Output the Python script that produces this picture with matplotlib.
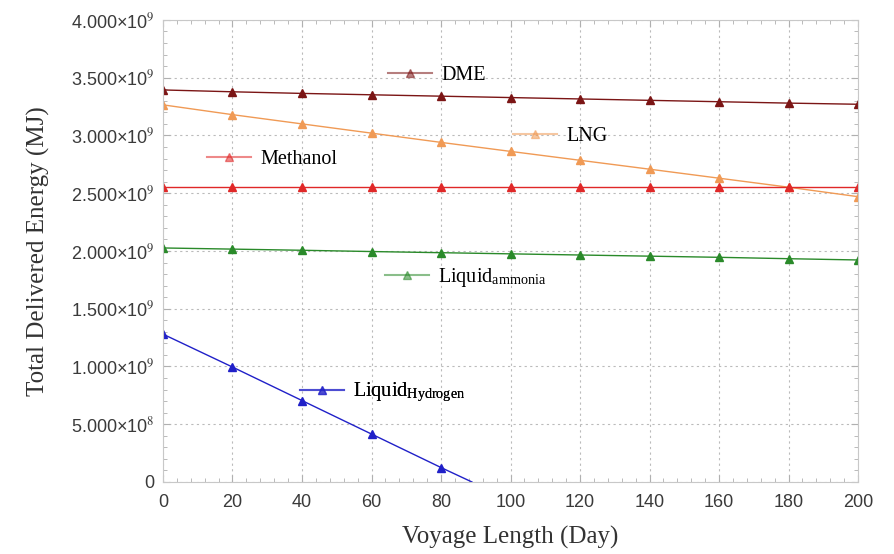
import numpy as np
import matplotlib
matplotlib.use("Agg")
import matplotlib.pyplot as plt
from matplotlib.ticker import MultipleLocator, FuncFormatter
from matplotlib.lines import Line2D

# data (energy in MJ)
days = [0, 20, 40, 60, 80, 100, 120, 140, 160, 180, 200]
dme = [3.394e9, 3.378e9, 3.364e9, 3.352e9, 3.340e9, 3.328e9, 3.316e9, 3.304e9, 3.292e9, 3.280e9, 3.270e9]
lng = [3.265e9, 3.180e9, 3.100e9, 3.020e9, 2.940e9, 2.862e9, 2.785e9, 2.708e9, 2.630e9, 2.552e9, 2.470e9]
methanol = [2.550e9] * 11
ammonia = [2.026e9, 2.016e9, 2.006e9, 1.995e9, 1.985e9, 1.975e9, 1.965e9, 1.955e9, 1.945e9, 1.933e9, 1.922e9]
h2_days = [0, 20, 40, 60, 80, 88.9]
hydrogen = [1.280e9, 0.995e9, 0.705e9, 0.415e9, 0.125e9, 0.0]

names = ["DME", "LNG", "Methanol", r"Liquid$_{\mathregular{ammonia}}$", r"Liquid$_{\mathregular{Hydrogen}}$"]
colors = ["#7b1515", "#f09a55", "#e02828", "#2a8a2a", "#2020c8"]
# legend anchor (axes fraction) for each label
label_pos = [(0.324, 0.879), (0.503, 0.747), (0.063, 0.697), (0.319, 0.443), (0.197, 0.193)]

plt.rcParams["mathtext.fontset"] = "stix"

fig = plt.figure(figsize=(8.94, 5.54), dpi=100)
ax = fig.add_axes([0.1823, 0.130, 0.7775, 0.834])

series = [(days, dme), (days, lng), (days, methanol), (days, ammonia), (h2_days, hydrogen)]
for (xs, ys), c in zip(series, colors):
    # the hydrogen line runs down to zero past its last marked point
    marked = [i for i, d in enumerate(xs) if d % 20 == 0]
    ax.plot(xs, ys, color=c, lw=1.0, marker="^", ms=6, markevery=marked)

for name, c, pos in zip(names, colors, label_pos):
    h = Line2D([], [], color=c, alpha=0.55, lw=1.5, marker="^", ms=6,
               markerfacecolor=c, markeredgecolor=c)
    leg = ax.legend([h], [name], loc="center left", bbox_to_anchor=pos,
                    frameon=False, borderpad=0, borderaxespad=0,
                    handlelength=2.2, handletextpad=0.45,
                    prop={"family": "Liberation Serif", "size": 14.5})
    ax.add_artist(leg)

ax.set_xlim(0, 200)
ax.set_ylim(0, 4e9)
ax.xaxis.set_major_locator(MultipleLocator(20))
ax.xaxis.set_minor_locator(MultipleLocator(4))
ax.yaxis.set_major_locator(MultipleLocator(0.5e9))
ax.yaxis.set_minor_locator(MultipleLocator(0.1e9))


def fmt(v, pos):
    if v < 1:
        return "0" if abs(v) < 1 else ""
    e = int(np.floor(np.log10(v)))
    return "%.3f×10$^{%d}$" % (v / 10 ** e, e)


ax.yaxis.set_major_formatter(FuncFormatter(fmt))

ax.grid(True, which="major", ls=(0, (2, 3)), color="#bbbbbb", lw=0.8)
for s in ax.spines.values():
    s.set_color("#c8c8c8")
ax.tick_params(which="both", direction="in", top=True, right=True, colors="#b0b0b0",
               labelcolor="#3a3a3a", labelsize=13)
ax.tick_params(which="major", length=5)
ax.tick_params(which="minor", length=3)
ax.tick_params(axis="x", pad=9)
ax.tick_params(axis="y", pad=6)
for lab in ax.get_xticklabels() + ax.get_yticklabels():
    lab.set_family("Liberation Sans")

ax.set_xlabel("Voyage Length (Day)", family="Liberation Serif", fontsize=18, color="#333333")
ax.set_ylabel("Total Delivered Energy (MJ)", family="Liberation Serif", fontsize=18, color="#333333")
ax.xaxis.set_label_coords(0.5, -0.095)
ax.yaxis.set_label_coords(-0.162, 0.5)

fig.savefig("out.png", dpi=100)
